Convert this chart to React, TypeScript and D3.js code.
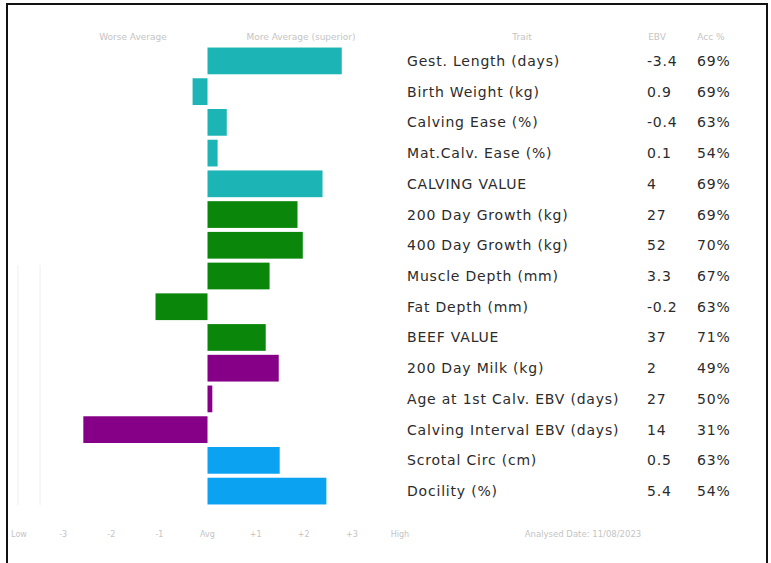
import React from "react";
import * as d3 from "d3";

const traits = [
  "Gest. Length (days)",
  "Birth Weight (kg)",
  "Calving Ease (%)",
  "Mat.Calv. Ease (%)",
  "CALVING VALUE",
  "200 Day Growth (kg)",
  "400 Day Growth (kg)",
  "Muscle Depth (mm)",
  "Fat Depth (mm)",
  "BEEF VALUE",
  "200 Day Milk (kg)",
  "Age at 1st Calv. EBV (days)",
  "Calving Interval EBV (days)",
  "Scrotal Circ (cm)",
  "Docility (%)",
];
const ebvs = ["-3.4", "0.9", "-0.4", "0.1", "4", "27", "52", "3.3", "-0.2", "37", "2", "27", "14", "0.5", "5.4"];
const accs = ["69%", "69%", "63%", "54%", "69%", "69%", "70%", "67%", "63%", "71%", "49%", "50%", "31%", "63%", "54%"];
const barValues = [2.79, -0.31, 0.4, 0.21, 2.39, 1.87, 1.98, 1.29, -1.08, 1.21, 1.48, 0.1, -2.58, 1.5, 2.47];
const groups = ["calving", "calving", "calving", "calving", "calving", "growth", "growth", "growth", "growth", "growth", "maternal", "maternal", "maternal", "other", "other"];
const groupColors: Record<string, string> = {
  calving: "#1db4b6",
  growth: "#0a870a",
  maternal: "#850086",
  other: "#0ba2f2",
};
const tickValues = [-4, -3, -2, -1, 0, 1, 2, 3, 4];
const tickLabels = ["Low", "-3", "-2", "-1", "Avg", "+1", "+2", "+3", "High"];

export default function App() {
  const W = 771;
  const H = 563;
  const x = d3.scaleLinear().domain([-4, 4]).range([15, 400]);
  const y = d3.scaleBand<number>().domain(d3.range(traits.length)).range([46, 506]).paddingInner(0.13).paddingOuter(0.05);
  const font = "'DejaVu Sans', sans-serif";
  return (
    <svg width={W} height={H} style={{ position: "absolute", left: 0, top: 0, background: "#fff" }}>
      <rect x={7} y={4} width={760} height={570} fill="#fff" stroke="#111" strokeWidth={2} />
      {[18, 40].map((lx) => (
        <line key={lx} x1={lx} x2={lx} y1={265} y2={505} stroke="#eee" strokeWidth={1} />
      ))}
      <text x={133} y={40} fontSize={9} fill="#c4c4c4" textAnchor="middle" fontFamily={font}>Worse Average</text>
      <text x={301} y={40} fontSize={9} fill="#c4c4c4" textAnchor="middle" fontFamily={font}>More Average (superior)</text>
      <text x={522} y={40} fontSize={9} fill="#c4c4c4" textAnchor="middle" fontFamily={font}>Trait</text>
      <text x={657} y={40} fontSize={9} fill="#c4c4c4" textAnchor="middle" fontFamily={font}>EBV</text>
      <text x={711} y={40} fontSize={9} fill="#c4c4c4" textAnchor="middle" fontFamily={font}>Acc %</text>
      {barValues.map((v, i) => {
        const x0 = x(Math.min(0, v));
        const x1 = x(Math.max(0, v));
        return (
          <rect key={i} x={x0} y={y(i)!} width={x1 - x0} height={y.bandwidth()} fill={groupColors[groups[i]]} />
        );
      })}
      {traits.map((t, i) => {
        const cy = y(i)! + y.bandwidth() / 2 + 5;
        return (
          <g key={t} fontFamily={font} fontSize={14} fill="#2b2b2b" letterSpacing={0.8}>
            <text x={407} y={cy}>{t}</text>
            <text x={647} y={cy}>{ebvs[i]}</text>
            <text x={697} y={cy}>{accs[i]}</text>
          </g>
        );
      })}
      {tickValues.map((tv, i) => (
        <text key={tv} x={i === 0 ? x(tv) + 4 : x(tv)} y={537} fontSize={8} fill="#c4c4c4" textAnchor="middle" fontFamily={font}>{tickLabels[i]}</text>
      ))}
      <text x={583} y={537} fontSize={8.5} fill="#c4c4c4" textAnchor="middle" fontFamily={font}>Analysed Date: 11/08/2023</text>
    </svg>
  );
}
